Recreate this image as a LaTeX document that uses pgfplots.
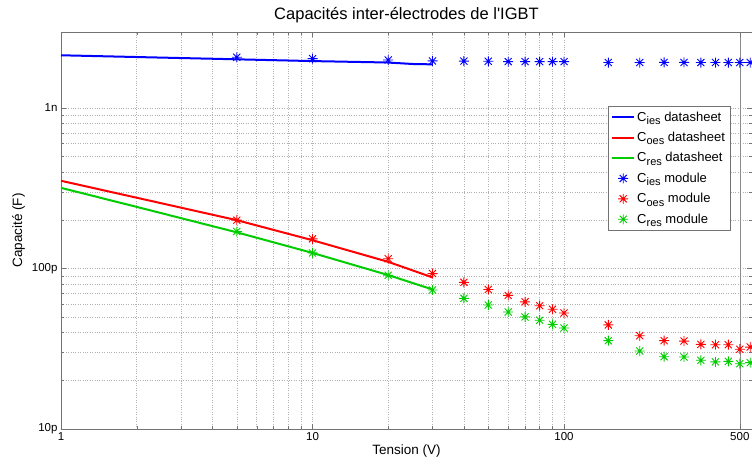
\documentclass[border=0pt]{standalone}
\usepackage{pgfplots}
\pgfplotsset{compat=1.18}
\usepackage{fontspec}
\setmainfont{Liberation Sans}
\newfontfamily\nolig{Liberation Sans}
\definecolor{mblue}{rgb}{0,0,1}
\definecolor{mred}{rgb}{1,0,0}
\definecolor{mgreen}{rgb}{0,0.8,0}
\pgfdeclareplotmark{ast8}{%
  \pgfpathmoveto{\pgfqpoint{-\pgfplotmarksize}{0pt}}\pgfpathlineto{\pgfqpoint{\pgfplotmarksize}{0pt}}%
  \pgfpathmoveto{\pgfqpoint{0pt}{-\pgfplotmarksize}}\pgfpathlineto{\pgfqpoint{0pt}{\pgfplotmarksize}}%
  \pgfpathmoveto{\pgfqpoint{-0.707\pgfplotmarksize}{-0.707\pgfplotmarksize}}\pgfpathlineto{\pgfqpoint{0.707\pgfplotmarksize}{0.707\pgfplotmarksize}}%
  \pgfpathmoveto{\pgfqpoint{-0.707\pgfplotmarksize}{0.707\pgfplotmarksize}}\pgfpathlineto{\pgfqpoint{0.707\pgfplotmarksize}{-0.707\pgfplotmarksize}}%
  \pgfusepathqstroke}
\newcommand\sub[1]{\raisebox{-0.5ex}{\fontsize{11}{11}\selectfont #1}}
\begin{document}
\begin{tikzpicture}[x=1pt,y=1pt]
\useasboundingbox (0,0) rectangle (752,463);
\begin{axis}[
  at={(61pt,34pt)}, anchor=south west,
  scale only axis, width=691pt, height=397pt,
  xmode=log, ymode=log,
  xmin=1, xmax=559, ymin=10, ymax=2975,
  xtick={1,10,100}, xticklabels={1,10,100},
  extra x ticks={500}, extra x tick labels={500},
  extra x tick style={major grid style={solid, black!45, line width=0.6pt}},
  ytick={10,100,1000}, yticklabels={10p,100p,1n},
  grid=both,
  major grid style={dotted, black!30, line width=0.6pt},
  minor grid style={dotted, black!30, line width=0.6pt},
  axis line style={black!55},
  every tick/.style={black!55},
  major tick length=5pt, minor tick length=3pt,
  tick label style={font=\fontsize{11.5}{13}\selectfont},
  title={Capacités inter-électrodes de {\nolig l'IGBT}},
  title style={font=\fontsize{16.5}{18}\selectfont},
  xlabel={Tension (V)}, ylabel={Capacité (F)},
  xlabel style={yshift=3pt},
  label style={font=\fontsize{13.5}{15}\selectfont},
  legend style={at={(0.7916,0.8136)}, anchor=north west, draw=black!55,
    font=\fontsize{13}{14}\selectfont, fill=white, row sep=5.5pt, inner ysep=3.5pt, inner xsep=3pt},
  legend cell align=left,
  legend image code/.code={\draw[mark repeat=2,mark phase=2,#1] plot coordinates {(0pt,0pt) (11pt,0pt) (22pt,0pt)};},
]
\addplot[mblue, line width=2pt] coordinates {(1,2130)(2,2077)(5,2010)(10,1960)(20,1920)(25,1880)(30,1870)};
\addlegendentry{C\sub{ies} datasheet}
\addplot[mred, line width=2pt] coordinates {(1,352)(2,276)(5,200)(10,150)(20,110)(30,88)};
\addlegendentry{C\sub{oes} datasheet}
\addplot[mgreen, line width=2pt] coordinates {(1,318)(2,242)(5,168)(10,125)(20,91)(30,74)};
\addlegendentry{C\sub{res} datasheet}
\addplot[mblue, only marks, mark=ast8, mark size=5pt, line width=0.9pt] coordinates {
(5,2070)(10,2030)(20,1990)(30,1965)(40,1960)(50,1955)(60,1945)(70,1945)(80,1945)(90,1945)(100,1945)
(150,1920)(200,1920)(250,1922)(300,1922)(350,1920)(400,1920)(450,1920)(500,1920)(550,1920)};
\addlegendentry{C\sub{ies} module}
\addplot[mred, only marks, mark=ast8, mark size=5pt, line width=0.9pt] coordinates {
(5,200)(10,153)(20,115)(30,93)(40,82)(50,74)(60,68)(70,62)(80,58.6)(90,55.7)(100,52.8)
(150,44.5)(200,38.1)(250,35.5)(300,35.3)(350,33.7)(400,33.5)(450,33.5)(500,31.4)(550,32.4)};
\addlegendentry{C\sub{oes} module}
\addplot[mgreen, only marks, mark=ast8, mark size=5pt, line width=0.9pt] coordinates {
(5,170)(10,125)(20,90.7)(30,73.5)(40,65.2)(50,59.2)(60,53.6)(70,49.9)(80,47.6)(90,44.9)(100,42.6)
(150,35.5)(200,30.6)(250,28.2)(300,28.1)(350,26.8)(400,26.2)(450,26.4)(500,25.5)(550,25.9)};
\addlegendentry{C\sub{res} module}
\end{axis}
\end{tikzpicture}
\end{document}
